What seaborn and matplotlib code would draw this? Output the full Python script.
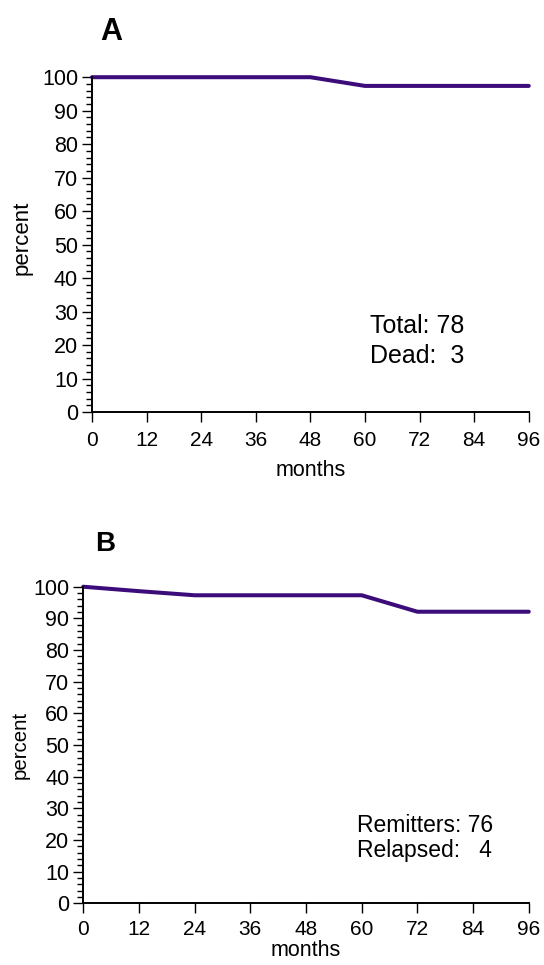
import pandas as pd
import matplotlib.pyplot as plt
import seaborn as sns
from matplotlib.ticker import MultipleLocator

# survival curve data
months_a = [0, 12, 24, 36, 48, 60, 72, 84, 96]
percent_a = [100, 100, 100, 100, 100, 97.4, 97.4, 97.4, 97.4]

months_b = [0, 12, 24, 36, 48, 60, 72, 84, 96]
percent_b = [100, 98.6, 97.3, 97.3, 97.3, 97.3, 92.1, 92.1, 92.1]

x_ticks = [0, 12, 24, 36, 48, 60, 72, 84, 96]
y_ticks = [0, 10, 20, 30, 40, 50, 60, 70, 80, 90, 100]

notes_a = ["Total: 78", "Dead:  3"]
notes_b = ["Remitters: 76", "Relapsed:   4"]

sns.set_style("ticks")
plt.rcParams["font.family"] = ["Liberation Sans", "DejaVu Sans"]
plt.rcParams["text.color"] = "black"
plt.rcParams["axes.labelcolor"] = "black"
plt.rcParams["xtick.color"] = "black"
plt.rcParams["ytick.color"] = "black"

line_color = "#3c0d7a"

fig = plt.figure(figsize=(5.44, 9.65), dpi=100)
ax_a = fig.add_axes([0.169, 0.573, 0.803, 0.347])
ax_b = fig.add_axes([0.153, 0.064, 0.819, 0.328])


def style_panel(ax, letter, notes, note_x, note_y, note_size, label_size,
                letter_x, letter_size, xpad, xlabelpad):
    ax.set_xlim(0, 96)
    ax.set_ylim(0, 100)
    ax.set_xticks(x_ticks)
    ax.set_yticks(y_ticks)
    ax.yaxis.set_minor_locator(MultipleLocator(2))
    ax.tick_params(axis="x", which="major", length=7.5, width=1, labelsize=15, pad=xpad)
    ax.tick_params(axis="y", which="major", length=7.5, width=1, labelsize=15.5, pad=2.5)
    ax.tick_params(axis="y", which="minor", length=4.5, width=1)
    for side in ["top", "right"]:
        ax.spines[side].set_visible(False)
    for side in ["left", "bottom"]:
        ax.spines[side].set_linewidth(1.4)
        ax.spines[side].set_color("black")
    ax.set_xlabel("months", fontsize=15.5, labelpad=xlabelpad)
    ax.set_ylabel("percent", fontsize=label_size)
    ax.text(letter_x, 1.112, letter, transform=ax.transAxes, fontsize=letter_size,
            fontweight="bold", va="baseline")
    ax.text(note_x, note_y[0], notes[0], transform=ax.transAxes, fontsize=note_size, va="baseline")
    ax.text(note_x, note_y[1], notes[1], transform=ax.transAxes, fontsize=note_size, va="baseline")


df_a = pd.DataFrame({"months": months_a, "percent": percent_a})
df_b = pd.DataFrame({"months": months_b, "percent": percent_b})

sns.lineplot(data=df_a, x="months", y="percent", ax=ax_a, color=line_color,
             linewidth=2.9, clip_on=False)
sns.lineplot(data=df_b, x="months", y="percent", ax=ax_b, color=line_color,
             linewidth=2.9, clip_on=False)

style_panel(ax_a, "A", notes_a, 0.636, (0.236, 0.146), 18, 16, 0.02, 22, 6.5, 7)
style_panel(ax_b, "B", notes_b, 0.614, (0.225, 0.146), 16.5, 14.7, 0.027, 20, 4.5, 0.5)

ax_a.yaxis.set_label_coords(-0.135, 0.52)
ax_b.yaxis.set_label_coords(-0.12, 0.5)

fig.savefig("out.png", dpi=100)
